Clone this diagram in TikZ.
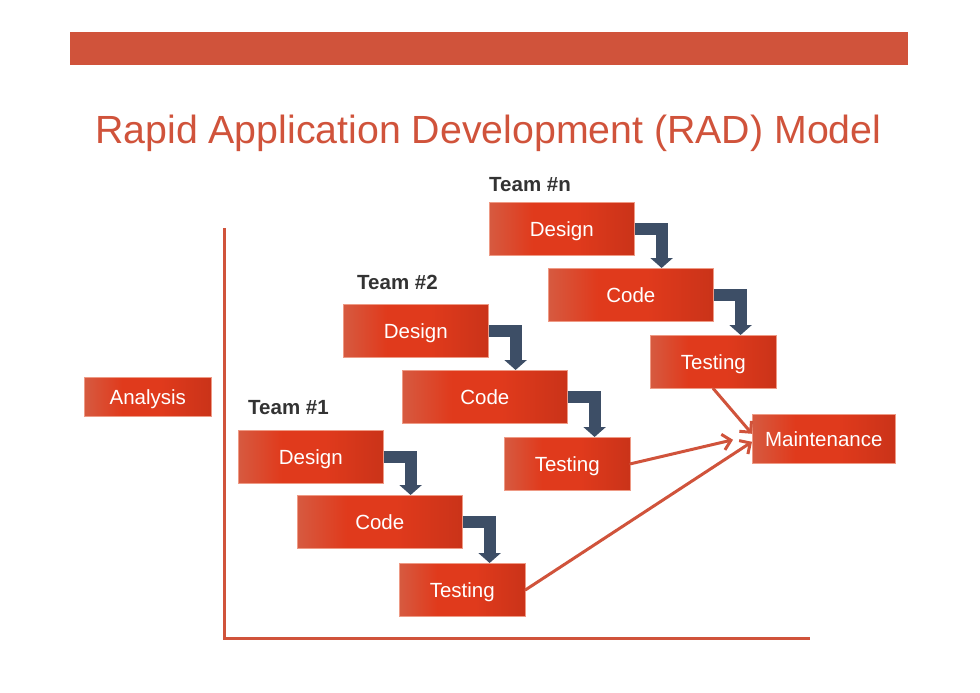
\documentclass[tikz,border=0pt]{standalone}
\usepackage{fontspec}
\setmainfont{Liberation Sans}
\usetikzlibrary{arrows.meta}
\definecolor{barred}{HTML}{D0533B}
\definecolor{boxL}{HTML}{D65A40}
\definecolor{boxM}{HTML}{E03A1C}
\definecolor{boxR}{HTML}{CA3319}
\definecolor{boxedge}{HTML}{EE9A85}
\definecolor{elbowc}{HTML}{3D4E66}
\definecolor{teamc}{HTML}{333333}
\pgfdeclarehorizontalshading{boxshade}{100bp}{color(0bp)=(boxL); color(25bp)=(boxL); color(40bp)=(boxM); color(55bp)=(boxM); color(75bp)=(boxR); color(100bp)=(boxR)}
\begin{document}
\begin{tikzpicture}[x=1pt,y=-1pt,
  box/.style={draw=boxedge, line width=0.6pt, shading=boxshade, shading angle=0,
    text=white, font=\fontsize{20.5}{20.5}\selectfont, text height=14.7pt, text depth=0pt,
    anchor=north west, inner sep=0pt},
  stagebox/.style={box, minimum width=145pt, minimum height=53pt},
  codebox/.style={box, minimum width=165pt, minimum height=53pt},
  testbox/.style={box, minimum width=126pt, minimum height=53pt},
  team/.style={anchor=base west, text=teamc, font=\fontsize{20.5}{20.5}\selectfont\bfseries, inner sep=0pt},
  elbow/.style={draw=elbowc, line width=12pt, line join=miter,
    -{Triangle[width=22pt,length=10pt]}},
  redarr/.style={draw=barred, line width=3pt, line cap=round,
    -{Straight Barb[width=16pt,length=8pt,line width=3pt]}},
  axisline/.style={draw=barred, line width=3pt}]
\useasboundingbox (0,0) rectangle (980,693);
% top bar
\fill[barred] (70,32) rectangle (908,65);
% title
\node[anchor=base west, inner sep=0pt, text=barred, font=\fontsize{39.3}{40}\selectfont] (title) at (95,143) {Rapid Application Development (RAD) Model};
% axes
\draw[axisline] (224,228) -- (224,638) -- (810,638);
% Analysis and Maintenance
\node[box, minimum width=127pt, minimum height=39pt] (an) at (84,377) {Analysis};
\node[box, minimum width=143pt, minimum height=49pt] (m) at (752,414) {Maintenance};
% Team n
\node[team] (tnl) at (489,191) {Team \#n};
\node[stagebox] (dn) at (489,202) {Design};
\node[codebox] (cn) at (548,268) {Code};
\node[testbox] (tn) at (650,335) {Testing};
% Team 2
\node[team] (t2l) at (357,289) {Team \#2};
\node[stagebox] (d2) at (343,304) {Design};
\node[codebox] (c2) at (402,370) {Code};
\node[testbox] (t2) at (504,437) {Testing};
% Team 1
\node[team] (t1l) at (248,414) {Team \#1};
\node[stagebox] (d1) at (238,430) {Design};
\node[codebox] (c1) at (297,495) {Code};
\node[testbox] (t1) at (399,563) {Testing};
% elbow connectors
\foreach \a/\b in {dn/cn, cn/tn, d2/c2, c2/t2, d1/c1, c1/t1}{
  \draw[elbow] (\a.east) -| ([xshift=27pt]\a.east |- \b.north);
}
% red arrows to maintenance
\coordinate (mend2) at ([xshift=-19pt,yshift=-1pt]m.west);
\draw[redarr] (tn.south) -- ([yshift=5pt]m.west);
\draw[redarr] (t2.east) -- (mend2);
\draw[redarr] (t1.east) -- ([yshift=-3pt]m.west);
\end{tikzpicture}
\end{document}
